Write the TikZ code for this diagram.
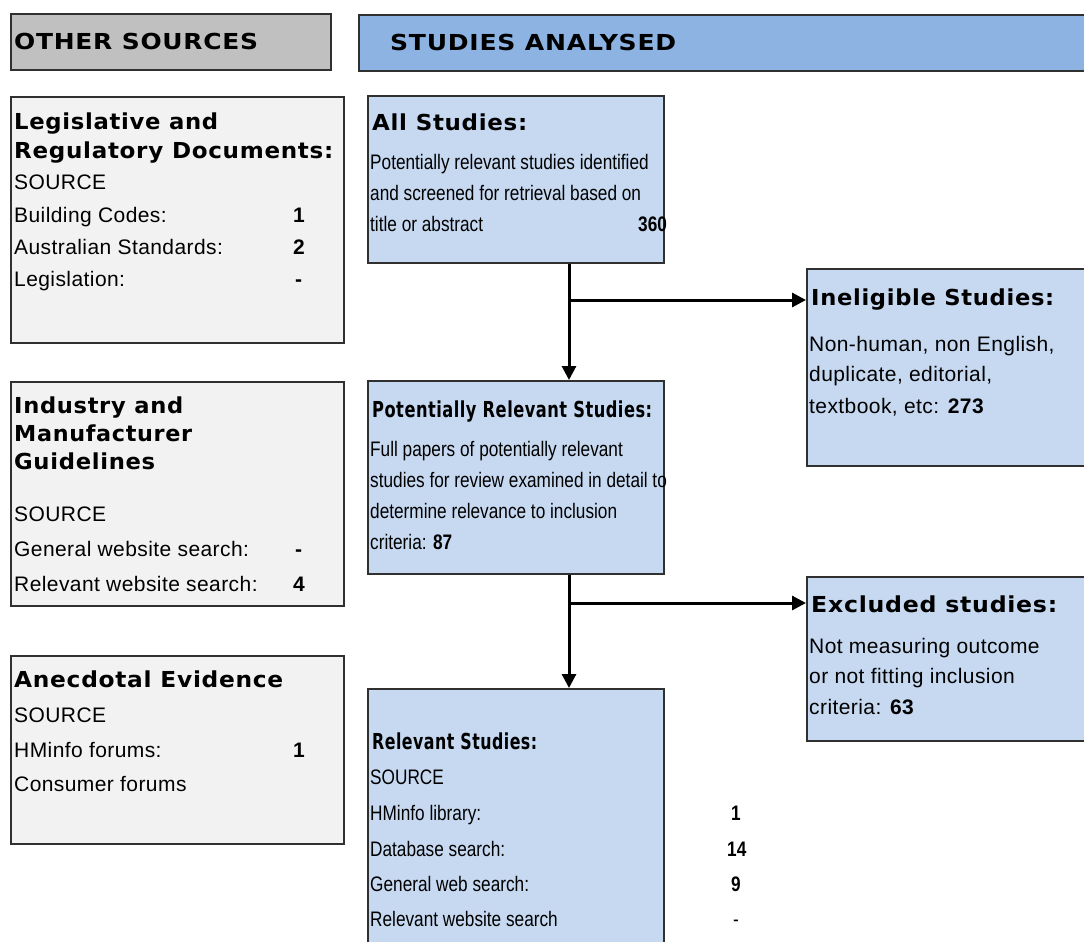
\documentclass[tikz,border=0pt]{standalone}
\usepackage{fontspec}
\usepackage{graphicx}
\setmainfont{Liberation Sans}
\newfontfamily\hdfont[LetterSpace=3]{DejaVu Sans Bold}
\newfontfamily\sidefont[LetterSpace=2]{Liberation Sans}
\newfontfamily\midfont[FakeStretch=0.82]{Liberation Sans}
\newcommand\fitw[2]{\resizebox{#1pt}{\height}{#2}}
\usetikzlibrary{arrows.meta}
\definecolor{hdrgray}{HTML}{C0C0C0}
\definecolor{hdrblue}{HTML}{8DB3E2}
\definecolor{lgray}{HTML}{F2F2F2}
\definecolor{lblue}{HTML}{C6D9F1}
\definecolor{edge}{HTML}{303030}
\tikzset{
  box/.style={draw=edge, line width=1.5pt, anchor=north west, inner sep=0pt},
  graybox/.style={box, fill=lgray},
  bluebox/.style={box, fill=lblue},
  topbox/.style={draw=edge, line width=2pt, anchor=north west, inner sep=0pt},
  head/.style={anchor=base west, inner sep=0pt, font=\hdfont\fontsize{22}{22}\selectfont},
  stxt/.style={anchor=base west, inner sep=0pt, font=\sidefont\fontsize{21}{21}\selectfont},
  snum/.style={anchor=base west, inner sep=0pt, font=\sidefont\bfseries\fontsize{21}{21}\selectfont},
  mtxt/.style={anchor=base west, inner sep=0pt, font=\midfont\fontsize{21}{21}\selectfont},
  mnum/.style={anchor=base west, inner sep=0pt, font=\midfont\bfseries\fontsize{21}{21}\selectfont},
  flow/.style={line width=3pt, -{Triangle[length=14pt,width=14pt]}}
}
\begin{document}
\begin{tikzpicture}[x=1pt,y=-1pt]
\useasboundingbox (0,0) rectangle (1084,942);
% headers
\node[topbox, fill=hdrgray, minimum width=320pt, minimum height=56pt] (hos) at (10,13) {};
\node[head] (hostxt) at (14,49) {\fitw{244}{OTHER SOURCES}};
\node[topbox, fill=hdrblue, minimum width=740pt, minimum height=56pt] (hsa) at (358,14) {};
\node[head] (hsatxt) at (390,51) {\fitw{286}{STUDIES ANALYSED}};

% left column boxes
\node[graybox, minimum width=333pt, minimum height=246pt] (leg) at (10,96) {};
\node[head] (leg1) at (14,129) {\fitw{204}{Legislative and}};
\node[head] (leg2) at (14,158) {\fitw{319}{Regulatory Documents:}};
\node[stxt] (leg3) at (14,189) {SOURCE};
\node[stxt] (leg4) at (14,222) {Building Codes:};
\node[snum] (leg4n) at (293,222) {1};
\node[stxt] (leg5) at (14,254) {Australian Standards:};
\node[snum] (leg5n) at (293,254) {2};
\node[stxt] (leg6) at (14,286) {Legislation:};
\node[snum] (leg6n) at (295,286) {-};

\node[graybox, minimum width=333pt, minimum height=224pt] (ind) at (10,381) {};
\node[head] (ind1) at (14,413) {\fitw{169}{Industry and}};
\node[head] (ind2) at (14,441) {\fitw{178}{Manufacturer}};
\node[head] (ind3) at (14,469) {\fitw{141}{Guidelines}};
\node[stxt] (ind4) at (14,521) {SOURCE};
\node[stxt] (ind5) at (14,556) {General website search:};
\node[snum] (ind5n) at (295,556) {-};
\node[stxt] (ind6) at (14,591) {Relevant website search:};
\node[snum] (ind6n) at (293,591) {4};

\node[graybox, minimum width=333pt, minimum height=188pt] (ane) at (10,655) {};
\node[head] (ane1) at (14,687) {\fitw{269}{Anecdotal Evidence}};
\node[stxt] (ane2) at (14,722) {SOURCE};
\node[stxt] (ane3) at (14,757) {HMinfo forums:};
\node[snum] (ane3n) at (293,757) {1};
\node[stxt] (ane4) at (14,791) {Consumer forums};

% middle column
\node[bluebox, minimum width=296pt, minimum height=167pt] (all) at (367,95) {};
\node[head] (all1) at (372,130) {\fitw{155}{All Studies:}};
\node[mtxt] (all2) at (370,169) {Potentially relevant studies identified};
\node[mtxt] (all3) at (370,200) {and screened for retrieval based on};
\node[mtxt] (all4) at (370,231) {title or abstract};
\node[mnum] (all4n) at (638,231) {360};

\node[bluebox, minimum width=296pt, minimum height=193pt] (pot) at (367,380) {};
\node[head] (pot1) at (372,417) {\fitw{280}{Potentially Relevant Studies:}};
\node[mtxt] (pot2) at (370,456) {Full papers of potentially relevant};
\node[mtxt] (pot3) at (370,487) {studies for review examined in detail to};
\node[mtxt] (pot4) at (370,518) {determine relevance to inclusion};
\node[mtxt] (pot5) at (370,549) {criteria: \textbf{87}};

\node[bluebox, minimum width=296pt, minimum height=270pt] (rel) at (367,688) {};
\node[head] (rel1) at (372,749) {\fitw{165}{Relevant Studies:}};
\node[mtxt] (rel2) at (370,784) {SOURCE};
\node[mtxt] (rel3) at (370,820) {HMinfo library:};
\node[mnum] (rel3n) at (731,820) {1};
\node[mtxt] (rel4) at (370,856) {Database search:};
\node[mnum] (rel4n) at (727,856) {14};
\node[mtxt] (rel5) at (370,891) {General web search:};
\node[mnum] (rel5n) at (731,891) {9};
\node[mtxt] (rel6) at (370,926) {Relevant website search};
\node[mtxt] (rel6n) at (733,926) {-};

% right column
\node[bluebox, minimum width=290pt, minimum height=197pt] (ine) at (806,268) {};
\node[head] (ine1) at (811,305) {\fitw{243}{Ineligible Studies:}};
\node[stxt] (ine2) at (809,351) {Non-human, non English,};
\node[stxt] (ine3) at (809,381) {duplicate, editorial,};
\node[stxt] (ine4) at (809,413) {textbook, etc: \textbf{273}};

\node[bluebox, minimum width=290pt, minimum height=164pt] (exc) at (806,576) {};
\node[head] (exc1) at (811,612) {\fitw{246}{Excluded studies:}};
\node[stxt] (exc2) at (809,653) {Not measuring outcome};
\node[stxt] (exc3) at (809,683) {or not fitting inclusion};
\node[stxt] (exc4) at (809,714) {criteria: \textbf{63}};

% connectors
\coordinate (j1) at (569,300);
\coordinate (j2) at (569,603);
\draw[flow] (all.south -| j1) -- (pot.north -| j1);
\draw[flow] (j1) -- (ine.west |- j1);
\draw[flow] (pot.south -| j2) -- (rel.north -| j2);
\draw[flow] (j2) -- (exc.west |- j2);
\end{tikzpicture}
\end{document}
